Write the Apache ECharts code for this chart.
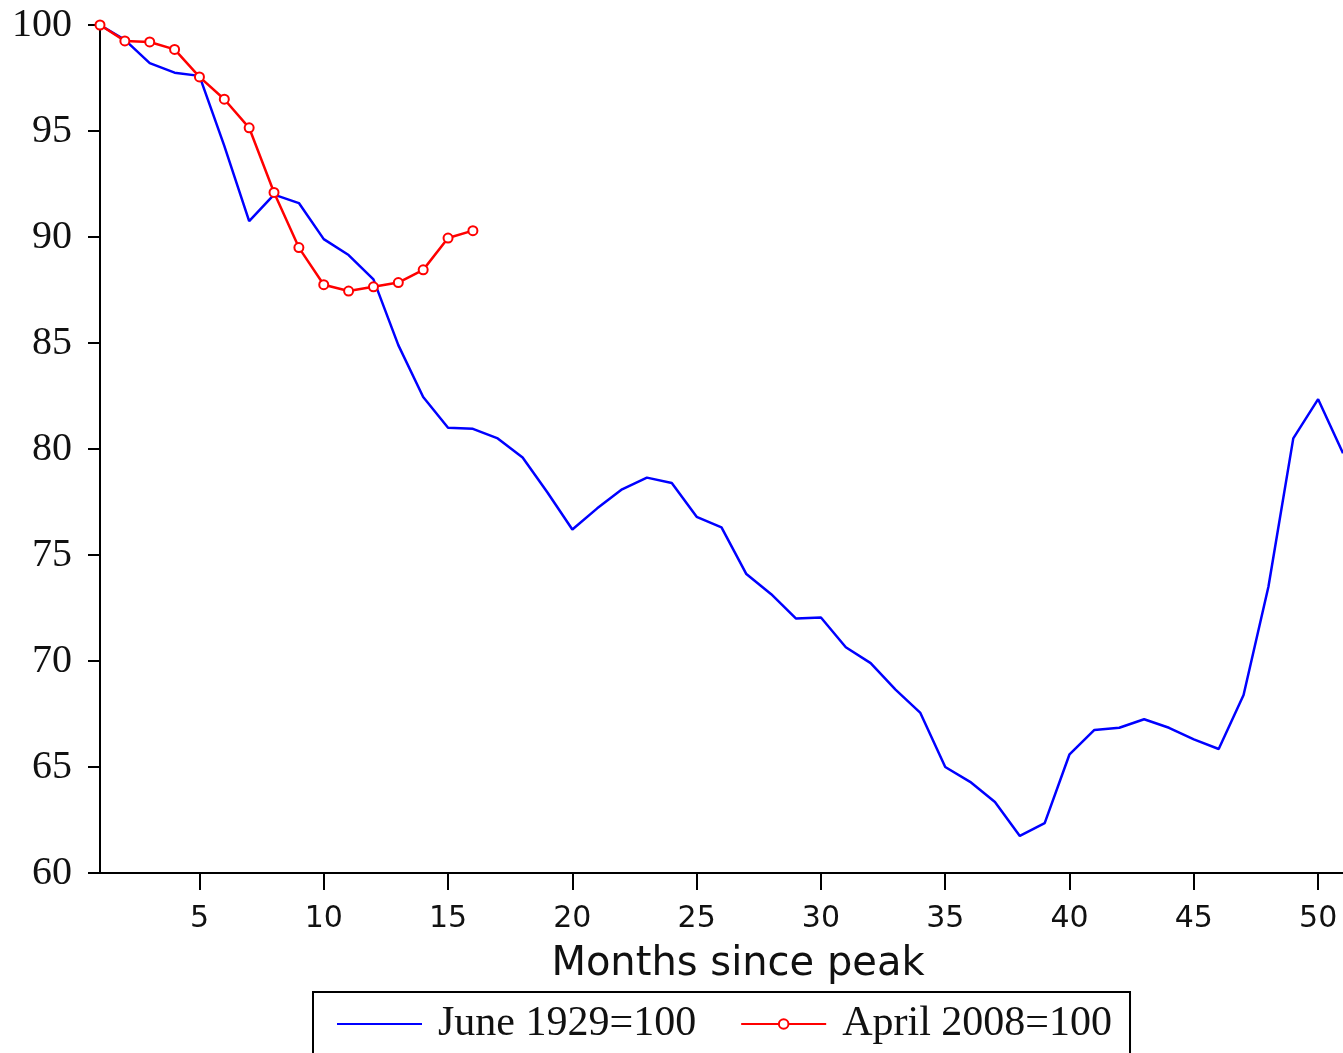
<!DOCTYPE html>
<html>
<head>
<meta charset="utf-8">
<script src="https://cdn.jsdelivr.net/npm/echarts@6/dist/echarts.min.js"></script>
<style>
html,body{margin:0;padding:0;background:#fff;}
#chart{width:1343px;height:1053px;}
</style>
</head>
<body>
<div id="chart"></div>
<script>
var months1929 = [1,2,3,4,5,6,7,8,9,10,11,12,13,14,15,16,17,18,19,20,21,22,23,24,25,26,27,28,29,30,31,32,33,34,35,36,37,38,39,40,41,42,43,44,45,46,47,48,49,50,51];
var values1929 = [100,99.3,98.2,97.75,97.6,94.3,90.75,92.0,91.6,89.9,89.15,88.0,84.9,82.45,81.0,80.95,80.5,79.6,77.95,76.2,77.2,78.1,78.65,78.4,76.8,76.3,74.1,73.15,72.0,72.05,70.65,69.9,68.65,67.55,65.0,64.3,63.35,61.75,62.35,65.6,66.75,66.85,67.25,66.85,66.3,65.85,68.4,73.5,80.5,82.35,79.8];
var months2008 = [1,2,3,4,5,6,7,8,9,10,11,12,13,14,15,16];
var values2008 = [100,99.25,99.2,98.85,97.55,96.5,95.15,92.1,89.5,87.75,87.45,87.65,87.85,88.45,89.95,90.3];
var xTicks = [5,10,15,20,25,30,35,40,45,50];
var seriesNames = ['June 1929=100','April 2008=100'];
var xAxisTitle = 'Months since peak';

function pairs(xs, ys){ return xs.map(function(x,i){ return [x, ys[i]]; }); }

var chart = echarts.init(document.getElementById('chart'));
chart.setOption({
  animation: false,
  backgroundColor: '#fff',
  grid: { left: 100, right: 0, top: 25, bottom: 180, containLabel: false },
  legend: {
    left: 313, top: 992,
    padding: [11, 18, 30, 23],
    borderColor: '#000', borderWidth: 2,
    itemWidth: 85, itemHeight: 12, itemGap: 44,
    textStyle: { fontFamily: 'Liberation Serif', fontSize: 42, color: '#111', padding: [0,0,0,11] },
    data: [ { name: seriesNames[0], itemStyle: { opacity: 0 } }, { name: seriesNames[1] } ]
  },
  xAxis: {
    type: 'value', min: 1, max: 51,
    name: xAxisTitle, nameLocation: 'middle', nameGap: 72,
    nameTextStyle: { fontFamily: 'DejaVu Sans', fontSize: 40, color: '#111', padding: [0,0,0,33] },
    axisLine: { show: true, onZero: false, lineStyle: { color: '#000', width: 2 } },
    axisTick: { show: true, length: 17, customValues: xTicks, lineStyle: { color: '#000', width: 2 } },
    axisLabel: { customValues: xTicks, margin: 31, fontFamily: 'DejaVu Sans', fontSize: 30, color: '#111' },
    splitLine: { show: false }
  },
  yAxis: {
    type: 'value', min: 60, max: 100, interval: 5,
    axisLine: { show: true, lineStyle: { color: '#000', width: 2 } },
    axisTick: { show: true, length: 12, lineStyle: { color: '#000', width: 2 } },
    axisLabel: { margin: 28, fontFamily: 'Liberation Serif', fontSize: 40, color: '#111' },
    splitLine: { show: false }
  },
  series: [
    {
      name: seriesNames[0], type: 'line', data: pairs(months1929, values1929),
      showSymbol: false, symbol: 'none',
      lineStyle: { color: '#0000ff', width: 2.5 }, itemStyle: { color: '#0000ff' }
    },
    {
      name: seriesNames[1], type: 'line', data: pairs(months2008, values2008),
      symbol: 'emptyCircle', symbolSize: 9,
      lineStyle: { color: '#ff0000', width: 2.5 },
      itemStyle: { color: '#ff0000', borderColor: '#ff0000', borderWidth: 2 }
    }
  ]
});
</script>
</body>
</html>
